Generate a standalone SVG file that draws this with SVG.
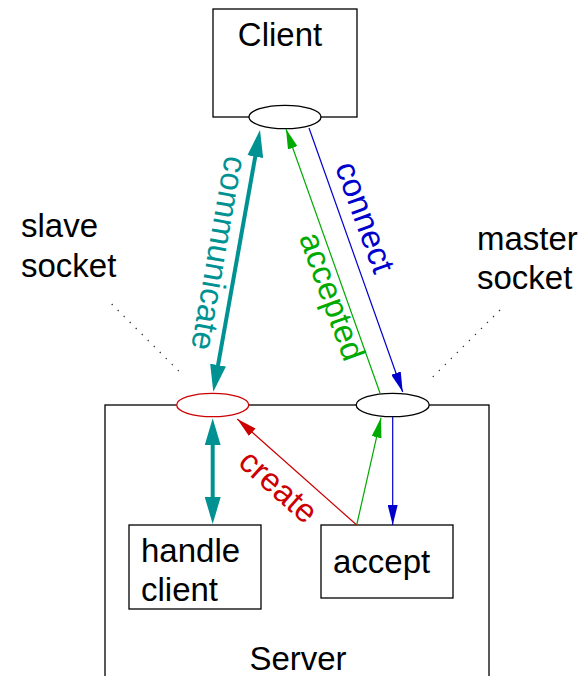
<svg xmlns="http://www.w3.org/2000/svg" width="586" height="676" viewBox="0 0 586 676">
<style>
text{font-family:"Liberation Sans",Arial,sans-serif;font-size:33px;fill:#000}
.box{fill:#fff;stroke:#000;stroke-width:1.3}
.sock{fill:#fff;stroke:#000;stroke-width:1.3}
.thin{fill:none;stroke-width:1.2}
.dot{fill:none;stroke:#333;stroke-width:1.3;stroke-dasharray:1.3 7.2}
</style>
<defs>
<marker id="hTeal" viewBox="0 0 27 16" refX="19" refY="8" markerWidth="27" markerHeight="16" markerUnits="userSpaceOnUse" orient="auto-start-reverse"><path d="M0,0 L27,8 L0,16 Z" fill="#009292"/></marker>
<marker id="hBlue" viewBox="0 0 20 10" refX="20" refY="5" markerWidth="20" markerHeight="10" markerUnits="userSpaceOnUse" orient="auto"><path d="M0,0 L20,5 L0,10 Z" fill="#0000cc"/></marker>
<marker id="hGreen" viewBox="0 0 20 10" refX="20" refY="5" markerWidth="20" markerHeight="10" markerUnits="userSpaceOnUse" orient="auto"><path d="M0,0 L20,5 L0,10 Z" fill="#00aa00"/></marker>
<marker id="hRed" viewBox="0 0 20 10" refX="20" refY="5" markerWidth="20" markerHeight="10" markerUnits="userSpaceOnUse" orient="auto"><path d="M0,0 L20,5 L0,10 Z" fill="#cc0000"/></marker>
</defs>
<g id="server">
<rect class="box" x="105" y="405" width="384" height="320"/>
<text x="298" y="670" text-anchor="middle">Server</text>
</g>
<g id="client">
<rect class="box" x="213" y="9" width="144" height="108"/>
<text x="280" y="46" text-anchor="middle">Client</text>
<ellipse id="client-socket" class="sock" cx="285" cy="117" rx="36" ry="11.7"/>
</g>
<g id="slave-socket">
<ellipse class="sock" cx="212.7" cy="405" rx="36" ry="11.7" stroke="#cc0000" style="stroke:#cc0000"/>
<text x="21" y="237">slave</text>
<text x="21" y="277">socket</text>
</g>
<g id="master-socket">
<ellipse class="sock" cx="392.7" cy="405" rx="36.5" ry="11.7"/>
<text x="477" y="250">master</text>
<text x="477" y="289">socket</text>
</g>
<g id="handle-client">
<rect class="box" x="129" y="525" width="132" height="84"/>
<text x="141" y="562">handle</text>
<text x="141" y="601">client</text>
</g>
<g id="accept">
<rect class="box" x="321" y="525" width="132" height="73"/>
<text x="333" y="573">accept</text>
</g>
<g id="connectors">
<path class="dot" d="M111.7,304 L181,373.3"/>
<path class="dot" d="M500,310 L430.7,379"/>
<path d="M258.6,137.9 L214.7,383.8" stroke="#009292" stroke-width="4" fill="none" marker-start="url(#hTeal)" marker-end="url(#hTeal)"/>
<path d="M212.7,426.3 L212.7,516" stroke="#009292" stroke-width="4" fill="none" marker-start="url(#hTeal)" marker-end="url(#hTeal)"/>
<path class="thin" d="M309,128 L402.7,392" stroke="#0000cc" marker-end="url(#hBlue)"/>
<path class="thin" d="M380,393 L286,129" stroke="#00aa00" marker-end="url(#hGreen)"/>
<path class="thin" d="M392.7,417 L392.7,525" stroke="#0000cc" marker-end="url(#hBlue)"/>
<path class="thin" d="M356.7,525 L381,417.7" stroke="#00aa00" marker-end="url(#hGreen)"/>
<path class="thin" d="M356.7,525 L237.3,419" stroke="#cc0000" marker-end="url(#hRed)"/>
<text transform="translate(217,253) rotate(100)" x="0" y="9" text-anchor="middle" style="fill:#009292">communicate</text>
<text transform="translate(363,218) rotate(70)" x="0" y="9" text-anchor="middle" style="fill:#0000cc">connect</text>
<text transform="translate(330,297) rotate(70)" x="0" y="9" text-anchor="middle" style="fill:#00aa00">accepted</text>
<text transform="translate(277,488) rotate(41.5)" x="0" y="9" text-anchor="middle" style="fill:#cc0000">create</text>
</g>
</svg>
